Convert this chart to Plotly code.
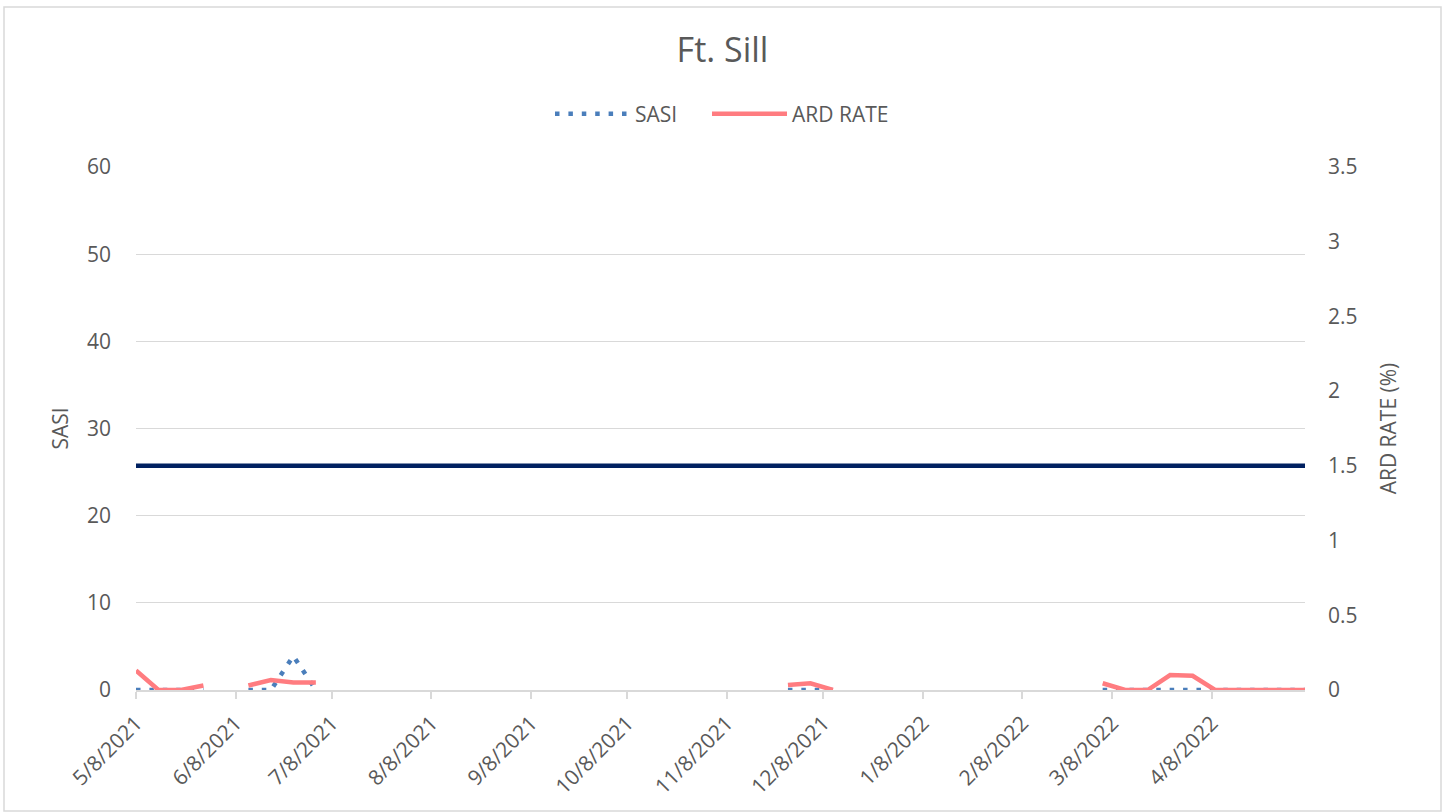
import plotly.graph_objects as go

# ---- data ----
dates = ["2021-05-08", "2021-05-15", "2021-05-22", "2021-05-29", "2021-06-05",
         "2021-06-12", "2021-06-19", "2021-06-26", "2021-07-03", "2021-07-10",
         "2021-11-27", "2021-12-04", "2021-12-11", "2021-12-18",
         "2022-03-05", "2022-03-12", "2022-03-19", "2022-03-26", "2022-04-02",
         "2022-04-09", "2022-04-16", "2022-04-23", "2022-04-30", "2022-05-07"]
sasi = [0, 0, 0, 0, None,
        0, 0, 3.9, 0, None,
        0, 0, 0, None,
        0, 0, 0, 0, 0, 0, 0, 0, 0, 0]
ard_rate = [0.13, 0, 0, 0.03, None,
            0.03, 0.067, 0.05, 0.05, None,
            0.033, 0.045, 0, None,
            0.045, 0, 0, 0.1, 0.095, 0, 0, 0, 0, 0]
threshold_dates = ["2021-05-08", "2022-05-07"]
threshold = [1.5, 1.5]

tick_vals = ["2021-05-08", "2021-06-08", "2021-07-08", "2021-08-08", "2021-09-08",
             "2021-10-08", "2021-11-08", "2021-12-08", "2022-01-08", "2022-02-08",
             "2022-03-08", "2022-04-08"]
tick_text = ["5/8/2021", "6/8/2021", "7/8/2021", "8/8/2021", "9/8/2021",
             "10/8/2021", "11/8/2021", "12/8/2021", "1/8/2022", "2/8/2022",
             "3/8/2022", "4/8/2022"]

FONT = "Open Sans"
TXT = "#595959"
GRID = "#D9D9D9"

fig = go.Figure()
fig.add_trace(go.Scatter(x=threshold_dates, y=threshold, yaxis="y2", mode="lines",
                         line=dict(color="#002060", width=4.5), showlegend=False,
                         hoverinfo="skip"))
fig.add_trace(go.Scatter(x=dates, y=ard_rate, yaxis="y2", mode="lines", name="ARD RATE",
                         line=dict(color="#FF7C80", width=4.5), connectgaps=False,
                         legend="legend2"))
fig.add_trace(go.Scatter(x=dates, y=sasi, yaxis="y", mode="lines", name="SASI",
                         line=dict(color="#4A7EBB", width=4.5, dash="4.5px,8.9px"),
                         connectgaps=False, legend="legend"))

W, H = 1445, 812
L, R, T, B = 136, 140, 167, 122
pw, ph = W - L - R, H - T - B

leg_common = dict(orientation="h", xanchor="left", y=(H - B - 114) / ph, yanchor="middle",
                  font=dict(size=21, color=TXT), itemwidth=75, bgcolor="rgba(0,0,0,0)")

fig.update_layout(
    width=W, height=H, autosize=False,
    margin=dict(l=L, r=R, t=T, b=B),
    paper_bgcolor="white", plot_bgcolor="white",
    font=dict(family=FONT, size=21, color=TXT),
    title=dict(text="Ft. Sill", x=0.5, xanchor="center", y=1 - 50 / H, yanchor="middle",
               font=dict(family=FONT, size=34, color=TXT)),
    legend=dict(x=(550 - L) / pw, **leg_common),
    legend2=dict(x=(707 - L) / pw, **leg_common),
    xaxis=dict(type="date", range=["2021-05-08", "2022-05-07"], automargin=False,
               tickmode="array", tickvals=tick_vals, ticktext=tick_text,
               tickangle=-45, showgrid=False, showline=True, linecolor=GRID, linewidth=1.5,
               ticks="outside", ticklen=7, tickcolor=GRID, tickwidth=1.5,
               ticklabelstandoff=4,
               tickfont=dict(size=21, color=TXT), zeroline=False),
    yaxis=dict(range=[0, 60], dtick=10, showgrid=True, gridcolor=GRID, gridwidth=1.3,
               automargin=False,
               zeroline=False, showline=False, ticks="", ticklabelstandoff=24,
               tickfont=dict(size=21, color=TXT),
               title=dict(text="SASI", font=dict(size=21, color=TXT), standoff=12)),
    yaxis2=dict(range=[0, 3.5], dtick=0.5, overlaying="y", side="right", showgrid=False,
                automargin=False,
                zeroline=False, showline=False, ticks="", ticklabelstandoff=22,
                tickfont=dict(size=21, color=TXT),
                title=dict(text="ARD RATE (%)", font=dict(size=21, color=TXT), standoff=24)),
    shapes=[dict(type="rect", xref="paper", yref="paper",
                 x0=(4 - L) / pw, x1=(1441 - L) / pw,
                 y0=(H - B - 811) / ph, y1=(H - B - 7) / ph,
                 line=dict(color=GRID, width=1.5), fillcolor="rgba(0,0,0,0)", layer="below")],
)

fig.write_html("out.html", config={"displayModeBar": False, "responsive": False},
               post_script="document.body.style.margin='0';document.body.style.padding='0';"
                           "document.body.style.overflow='hidden';")
